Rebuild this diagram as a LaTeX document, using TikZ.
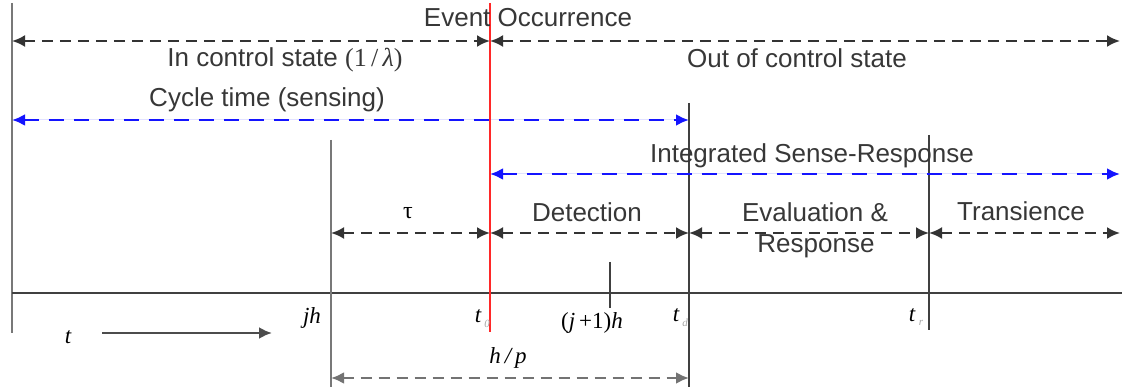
\documentclass[tikz,border=0pt]{standalone}
\usepackage{fontspec}
\setmainfont{Liberation Sans}
\newfontfamily\tms{Liberation Serif}
\usetikzlibrary{arrows.meta}
\definecolor{txtgray}{RGB}{55,55,55}
\definecolor{linegray}{RGB}{120,120,120}
\definecolor{pureblue}{RGB}{20,20,255}
\definecolor{pured}{RGB}{255,40,40}
\begin{document}
\begin{tikzpicture}[x=1pt,y=-1pt,
  lbl/.style={inner sep=0pt, text=txtgray, font=\fontsize{26}{28}\selectfont},
  mth/.style={inner sep=0pt, text=black, font=\tms\itshape\fontsize{23}{25}\selectfont},
  sub/.style={inner sep=0pt, text=black!35, font=\tms\itshape\fontsize{11}{12}\selectfont},
  vgray/.style={line width=2.6pt, draw=linegray},
  vdark/.style={line width=2.2pt, draw=black!75},
  tip/.style={{Latex[length=13pt,width=12pt]}-{Latex[length=13pt,width=12pt]}},
  blkarrow/.style={tip, line width=2.2pt, draw=black!80, dash pattern=on 11pt off 7pt},
  bluearrow/.style={tip, line width=2.6pt, draw=pureblue, fill=pureblue, dash pattern=on 15pt off 10pt},
  grayarrow/.style={tip, line width=2.6pt, draw=black!55, dash pattern=on 11pt off 7pt}
]
\useasboundingbox (0,0) rectangle (1122,387);
% coordinates
\coordinate (L0) at (12,3);   \coordinate (L1) at (12,333);
\coordinate (J0) at (331,140); \coordinate (J1) at (331,387);
\coordinate (E0) at (490,3);  \coordinate (E1) at (490,332);
\coordinate (D0) at (689,103); \coordinate (D1) at (689,387);
\coordinate (R0) at (929,135); \coordinate (R1) at (929,330);
\coordinate (M0) at (610,262); \coordinate (M1) at (610,308);
\coordinate (T0) at (12,293);  \coordinate (T1) at (1122,293);
\coordinate (aL) at (12,41);  \coordinate (aE) at (490,41);  \coordinate (aR) at (1120,41);
\coordinate (bL) at (12,120); \coordinate (bD) at (689,120);
\coordinate (cE) at (490,174); \coordinate (cR) at (1120,174);
\coordinate (rJ) at (331,233); \coordinate (rE) at (490,233); \coordinate (rD) at (689,233);
\coordinate (rR) at (929,233); \coordinate (rX) at (1120,233);
\coordinate (tS) at (102,333); \coordinate (tE) at (272,333);
\coordinate (hJ) at (331,378); \coordinate (hD) at (689,378);
% lines
\draw[vgray] (L0) -- (L1);
\draw[line width=2.2pt, draw=black!75] (T0) -- (T1);
\draw[vgray] (J0) -- (J1);
\draw[vdark] (D0) -- (D1);
\draw[vdark] (R0) -- (R1);
\draw[vdark] (M0) -- (M1);
% arrows
\draw[blkarrow] (aL) -- (aE);
\draw[blkarrow] (aE) -- (aR);
\draw[bluearrow] (bL) -- (bD);
\draw[bluearrow] (cE) -- (cR);
\draw[blkarrow] (rJ) -- (rE);
\draw[blkarrow] (rE) -- (rD);
\draw[blkarrow] (rD) -- (rR);
\draw[blkarrow] (rR) -- (rX);
\draw[grayarrow] (hJ) -- (hD);
\draw[-{Latex[length=13pt,width=12pt]}, line width=2.4pt, draw=black!70] (tS) -- (tE);
\draw[line width=2pt, draw=pured] (E0) -- (E1);
% texts
\node[lbl] (ev) at (528,18) {Event Occurrence};
\node[lbl] (ic) at (285,60) {In control state {\tms(1\,/\,\itshape λ\upshape)}};
\node[lbl] (oc) at (797,58) {Out of control state};
\node[lbl] (ct) at (267,100) {Cycle time (sensing)};
\node[lbl] (is) at (812,156) {Integrated Sense-Response};
\node[mth, font=\tms\fontsize{24}{26}\selectfont] (tau) at (408,213) {τ};
\node[lbl] (de) at (587,212) {Detection};
\node[lbl] (evr) at (815,212) {Evaluation \&};
\node[lbl] (rsp) at (816,246) {Response};
\node[lbl] (tr) at (1021,211) {Transience};
\node[mth] (jh) at (312,318) {jh};
\node[mth] (t0) at (478,316) {t};
\node[sub] (t0s) at (487,324) {0};
\node[mth] (jp) at (592,323) {\upshape(\itshape j\upshape\,+1)\itshape h};
\node[mth] (td) at (676,315) {t};
\node[sub] (tds) at (685,323) {d};
\node[mth] (trl) at (912,315) {t};
\node[sub] (trs) at (921,323) {r};
\node[mth] (tt) at (68,337) {t};
\node[mth] (hp) at (508,358) {h\,/\,p};
\end{tikzpicture}
\end{document}
